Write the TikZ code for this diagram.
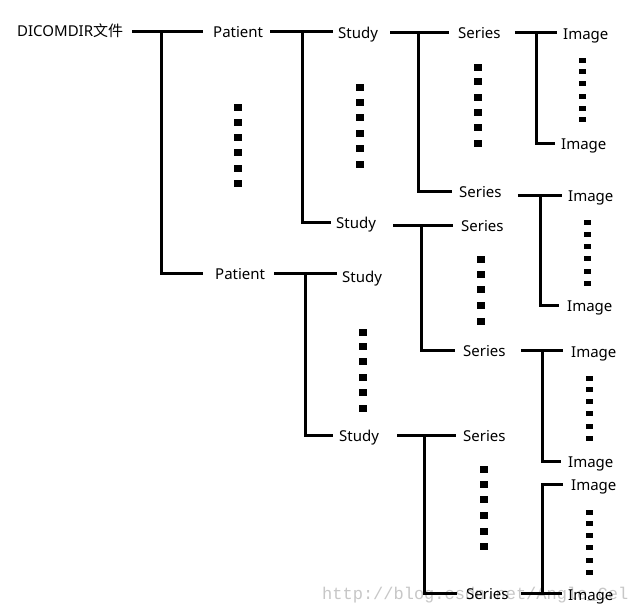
\documentclass[tikz,border=0pt]{standalone}
\usepackage{fontspec}
\setmainfont{Noto Sans}
\newfontfamily\cjk{Noto Sans CJK SC}
\newfontfamily\wmfont{Liberation Mono}
\newcommand\dotcolumn[4]{% x, list of y, width, height
  \foreach \yy in {#2}{\fill (#1-#3/2,\yy-#4/2) rectangle ++(#3,#4);}}
\begin{document}
\begin{tikzpicture}[x=1pt,y=-1pt,
  lbl/.style={anchor=west,inner sep=0pt,font=\fontsize{15}{18}\selectfont,text height=12pt,text depth=0pt},
  ln/.style={line width=3pt,black}]
\useasboundingbox (0,0) rectangle (635,616);
\fill[white] (0,0) rectangle (635,616);
% watermark
\node[anchor=west,inner sep=0pt,text=black!22,font=\wmfont\fontsize{17}{18}\selectfont] (wm) at (322,595) {http://blog.csdn.net/Angle\_Cel};
% nodes
\node[lbl] (root) at (17,30) {DICOMDIR{\cjk 文件}};
\node[lbl] (p1) at (213,31) {Patient};
\node[lbl] (p2) at (215,273) {Patient};
\node[lbl] (s1) at (338,32) {Study};
\node[lbl] (s2) at (336,222) {Study};
\node[lbl] (s3) at (342,276) {Study};
\node[lbl] (s4) at (339,435) {Study};
\node[lbl] (se1) at (458,32) {Series};
\node[lbl] (se2) at (459,191) {Series};
\node[lbl] (se3) at (461,225) {Series};
\node[lbl] (se4) at (463,350) {Series};
\node[lbl] (se5) at (463,435) {Series};
\node[lbl] (se6) at (466,593) {Series};
\node[lbl] (i1) at (563,33) {Image};
\node[lbl] (i2) at (561,143) {Image};
\node[lbl] (i3) at (568,195) {Image};
\node[lbl] (i4) at (567,305) {Image};
\node[lbl] (i5) at (571,351) {Image};
\node[lbl] (i6) at (568,461) {Image};
\node[lbl] (i7) at (571,484) {Image};
\node[lbl] (i8) at (568,594) {Image};
% junction x positions
\coordinate (jr) at (161,0);
\coordinate (jp1) at (302,0);
\coordinate (jp2) at (305,0);
\coordinate (js1) at (418,0);
\coordinate (js2) at (421,0);
\coordinate (js4) at (424,0);
\coordinate (jse1) at (536,0);
\coordinate (jse2) at (540,0);
\coordinate (jse4) at (542,0);
\coordinate (jse6) at (542,0);
% connectors
\draw[ln] ([xshift=9pt]root.east |- p1.west) -- ([xshift=-10pt]p1.west);
\draw[ln] (jr |- p1.west) |- ([xshift=-12pt]p2.west);
\draw[ln] ([xshift=7pt]p1.east) -- ([xshift=-5pt]s1.west |- p1.east);
\draw[ln] (jp1 |- p1.east) |- ([xshift=-5pt]s2.west);
\draw[ln] ([xshift=9pt]p2.east) -- ([xshift=-5pt]s3.west |- p2.east);
\draw[ln] (jp2 |- p2.east) |- ([xshift=-6pt]s4.west);
\draw[ln] ([xshift=12pt]s1.east) -- ([xshift=-9pt]se1.west |- s1.east);
\draw[ln] (js1 |- s1.east) |- ([xshift=-7pt]se2.west);
\draw[ln] ([xshift=17pt]s2.east |- se3.west) -- ([xshift=-8pt]se3.west);
\draw[ln] (js2 |- se3.west) |- ([xshift=-8pt]se4.west);
\draw[ln] ([xshift=18pt]s4.east) -- ([xshift=-7pt]se5.west |- s4.east);
\draw[ln] (js4 |- s4.east) |- ([xshift=-9pt]se6.west);
\draw[ln] ([xshift=14pt]se1.east) -- ([xshift=-6pt]i1.west |- se1.east);
\draw[ln] (jse1 |- se1.east) |- ([xshift=-6pt]i2.west);
\draw[ln] ([xshift=16pt]se2.east |- i3.west) -- ([xshift=-6pt]i3.west);
\draw[ln] (jse2 |- i3.west) |- ([xshift=-8pt]i4.west);
\draw[ln] ([xshift=15pt]se4.east) -- ([xshift=-8pt]i5.west |- se4.east);
\draw[ln] (jse4 |- se4.east) |- ([xshift=-7pt]i6.west);
\draw[ln] ([xshift=12pt]se6.east) -- ([xshift=-6pt]i8.west |- se6.east);
\draw[ln] (jse6 |- se6.east) |- ([xshift=-8pt]i7.west);
% ellipsis dots
\dotcolumn{238}{107,122,137,152,168,183}{8}{7}
\dotcolumn{360}{87,102,117,133,148,164}{8}{7}
\dotcolumn{478}{67,81,97,112,127,143}{8}{7}
\dotcolumn{582}{60,71,83,96,108,119}{7}{5}
\dotcolumn{587}{222,234,246,258,271,283}{7}{5}
\dotcolumn{481}{259,274,289,305,321}{8}{7}
\dotcolumn{363}{332,346,361,377,392,408}{8}{7}
\dotcolumn{589}{378,389,401,413,426,438}{7}{5}
\dotcolumn{484}{469,484,499,515,531,546}{8}{7}
\dotcolumn{589}{512,523,535,547,560,572}{7}{5}
\end{tikzpicture}
\end{document}
